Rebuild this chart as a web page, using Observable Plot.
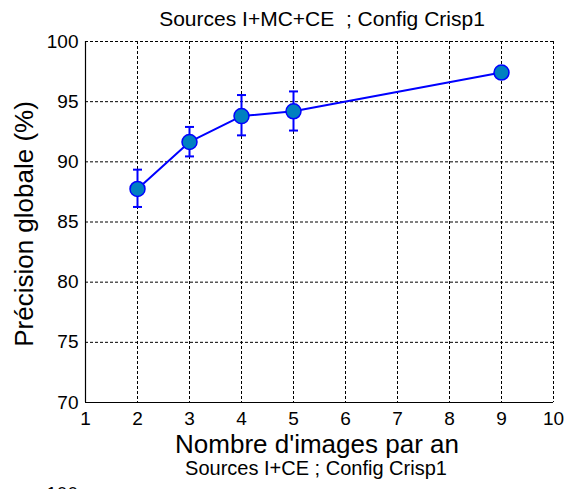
<!DOCTYPE html>
<html>
<head>
<meta charset="utf-8">
<script src="https://cdn.jsdelivr.net/npm/d3@7"></script>
<script src="https://cdn.jsdelivr.net/npm/@observablehq/plot@0.6"></script>
<style>
  html, body { margin: 0; padding: 0; background: #fff; }
  svg { display: block; }
</style>
</head>
<body>
<div id="chart"></div>
<script>
const nbImages = [2, 3, 4, 5, 9];
const precision = [87.75, 91.65, 93.8, 94.2, 97.42];
const errLow = [86.25, 90.45, 92.2, 92.6, 97.42];
const errHigh = [89.35, 92.9, 95.55, 95.85, 97.42];
const xTicks = [1, 2, 3, 4, 5, 6, 7, 8, 9, 10];
const yTicks = [70, 75, 80, 85, 90, 95, 100];
const titleTop = "Sources I+MC+CE  ; Config Crisp1";
const titleNext = "Sources I+CE ; Config Crisp1";
const xLabel = "Nombre d'images par an";
const yLabel = "Précision globale (%)";

const data = nbImages.map((x, i) => ({x, y: precision[i], lo: errLow[i], hi: errHigh[i]}));

const capSymbol = {
  draw(ctx, size) {
    const r = Math.sqrt(size / Math.PI);
    ctx.moveTo(-r, 0);
    ctx.lineTo(r, 0);
  }
};

const FONT = "Arial, 'Liberation Sans', sans-serif";
const blue = "#0000ff";

const plot = Plot.plot({
  width: 567,
  height: 489,
  marginLeft: 85,
  marginRight: 14,
  marginTop: 41,
  marginBottom: 87,
  style: {fontFamily: FONT, background: "#fff", color: "#000"},
  x: {domain: [1, 10], ticks: xTicks},
  y: {domain: [70, 100], ticks: yTicks},
  marks: [
    Plot.gridX(xTicks, {stroke: "#000", strokeOpacity: 1, strokeWidth: 1, strokeDasharray: "3,2"}),
    Plot.gridY(yTicks, {stroke: "#000", strokeOpacity: 1, strokeWidth: 1, strokeDasharray: "3,2"}),
    Plot.ruleX([1], {stroke: "#000", strokeWidth: 1.2}),
    Plot.ruleY([70], {stroke: "#000", strokeWidth: 1.2}),
    Plot.axisX(xTicks, {tickSize: 0, tickPadding: 9, fontSize: 19, label: null, tickFormat: d => String(d)}),
    Plot.axisY(yTicks, {tickSize: 0, tickPadding: 7, fontSize: 19, label: null, tickFormat: d => String(d)}),
    Plot.ruleX(data, {x: "x", y1: "lo", y2: "hi", stroke: blue, strokeWidth: 2}),
    Plot.dot(data, {x: "x", y: "lo", symbol: capSymbol, r: 4.5, stroke: blue, strokeWidth: 2, fill: "none"}),
    Plot.dot(data, {x: "x", y: "hi", symbol: capSymbol, r: 4.5, stroke: blue, strokeWidth: 2, fill: "none"}),
    Plot.line(data, {x: "x", y: "y", stroke: blue, strokeWidth: 2}),
    Plot.dot(data, {x: "x", y: "y", r: 7.5, fill: "#0080c0", stroke: blue, strokeWidth: 1.5})
  ]
});

const svg = d3.select(plot);
svg.append("text").attr("x", 322).attr("y", 26).attr("text-anchor", "middle")
  .attr("font-family", FONT).attr("font-size", 21).attr("fill", "#000").text(titleTop);
svg.append("text").attr("x", 317).attr("y", 453).attr("text-anchor", "middle")
  .attr("font-family", FONT).attr("font-size", 26).attr("fill", "#000").text(xLabel);
svg.append("text").attr("x", 316).attr("y", 475).attr("text-anchor", "middle")
  .attr("font-family", FONT).attr("font-size", 20).attr("fill", "#000").text(titleNext);
svg.append("text").attr("transform", "translate(33,224) rotate(-90)").attr("text-anchor", "middle")
  .attr("font-family", FONT).attr("font-size", 26).attr("fill", "#000").text(yLabel);
svg.append("text").attr("x", 78).attr("y", 500).attr("text-anchor", "end")
  .attr("font-family", FONT).attr("font-size", 19).attr("fill", "#000").text("100");

document.getElementById("chart").appendChild(plot);
</script>
</body>
</html>
